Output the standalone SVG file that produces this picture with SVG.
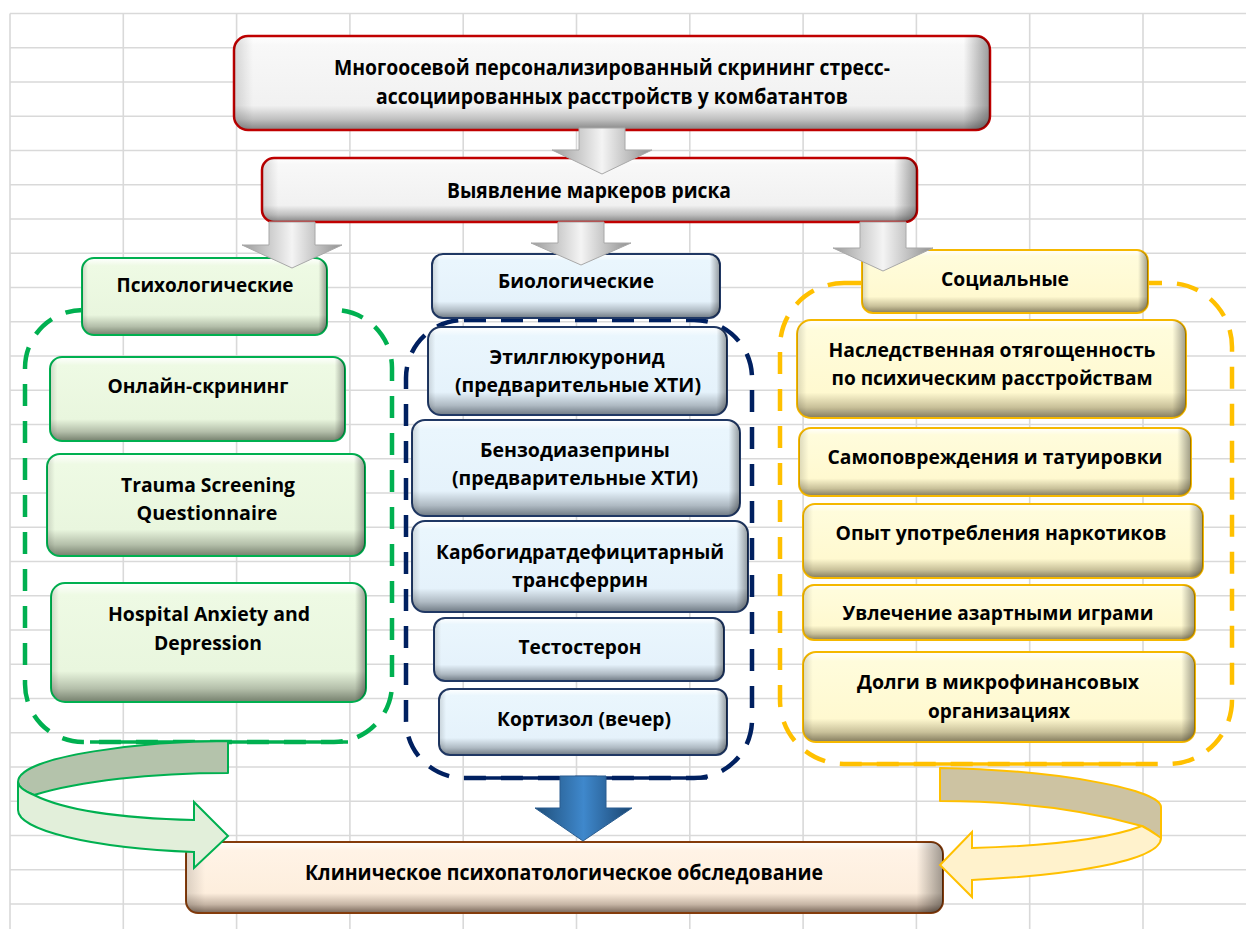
<svg xmlns="http://www.w3.org/2000/svg" width="1246" height="929" viewBox="0 0 1246 929">
<defs>
<linearGradient id="gGreen" x1="0" y1="0" x2="0" y2="1"><stop offset="0" stop-color="#ffffff"/><stop offset="0.1" stop-color="#eefae4"/><stop offset="0.74" stop-color="#e9f6de"/><stop offset="0.89" stop-color="#b3bea9"/><stop offset="1" stop-color="#75806d"/></linearGradient>
<linearGradient id="gBlue" x1="0" y1="0" x2="0" y2="1"><stop offset="0" stop-color="#ffffff"/><stop offset="0.1" stop-color="#eaf6fd"/><stop offset="0.74" stop-color="#e5f2fb"/><stop offset="0.89" stop-color="#afbac3"/><stop offset="1" stop-color="#6f7a84"/></linearGradient>
<linearGradient id="gGold" x1="0" y1="0" x2="0" y2="1"><stop offset="0" stop-color="#ffffff"/><stop offset="0.1" stop-color="#fffcdc"/><stop offset="0.74" stop-color="#fff9d0"/><stop offset="0.89" stop-color="#c9c19a"/><stop offset="1" stop-color="#837b5d"/></linearGradient>
<linearGradient id="gRed" x1="0" y1="0" x2="0" y2="1"><stop offset="0" stop-color="#ffffff"/><stop offset="0.1" stop-color="#f8f8f8"/><stop offset="0.74" stop-color="#f1f1f1"/><stop offset="0.89" stop-color="#bebebe"/><stop offset="1" stop-color="#838383"/></linearGradient>
<linearGradient id="gPeach" x1="0" y1="0" x2="0" y2="1"><stop offset="0" stop-color="#ffffff"/><stop offset="0.12" stop-color="#fff3e6"/><stop offset="0.72" stop-color="#fdeedd"/><stop offset="0.88" stop-color="#c5b4a4"/><stop offset="1" stop-color="#786658"/></linearGradient>
<linearGradient id="shadeH" x1="0" y1="0" x2="1" y2="0"><stop offset="0" stop-color="#000" stop-opacity="0.14"/><stop offset="0.025" stop-color="#000" stop-opacity="0"/><stop offset="0.965" stop-color="#000" stop-opacity="0"/><stop offset="1" stop-color="#000" stop-opacity="0.38"/></linearGradient>
<linearGradient id="gGrey" x1="0" y1="0" x2="1" y2="0"><stop offset="0" stop-color="#9c9c9c"/><stop offset="0.5" stop-color="#f4f4f4"/><stop offset="1" stop-color="#8f8f8f"/></linearGradient>
<linearGradient id="gBlueArrow" x1="0" y1="0" x2="1" y2="0"><stop offset="0" stop-color="#1f4e79"/><stop offset="0.5" stop-color="#3f88cc"/><stop offset="1" stop-color="#1a4570"/></linearGradient>
</defs>
<style>
.grid{stroke:#d9d9d9;stroke-width:1.6;fill:none}
.t{font-family:"Open Sans","Noto Sans","DejaVu Sans",sans-serif;font-weight:700;font-size:19.5px;fill:#000;text-anchor:middle}
.tc{font-family:"Open Sans","Noto Sans","DejaVu Sans",sans-serif;font-weight:700;font-size:22px;fill:#000;text-anchor:middle}
.green .b{fill:url(#gGreen);stroke:#00b050;stroke-width:2}
.blue .b{fill:url(#gBlue);stroke:#203864;stroke-width:2}
.gold .b{fill:url(#gGold);stroke:#f5b800;stroke-width:2}
.red .b{fill:url(#gRed);stroke:#c00000;stroke-width:2.5}
.peach .b{fill:url(#gPeach);stroke:#843c0c;stroke-width:2}
.s{fill:url(#shadeH);stroke:none}
.dash{fill:none;stroke-width:4.5;stroke-dasharray:22 15}
.garrow{fill:url(#gGrey);stroke:#a8a8a8;stroke-width:1}
</style>
<rect width="1246" height="929" fill="#ffffff"/>
<path class="grid" d="M10,13.5V929M123.3,13.5V929M236.6,13.5V929M349.9,13.5V929M463.2,13.5V929M576.5,13.5V929M689.8,13.5V929M803.1,13.5V929M916.4,13.5V929M1029.7,13.5V929M1143,13.5V929
M10,13.5H1246M10,47.75H1246M10,82H1246M10,116.25H1246M10,150.5H1246M10,184.75H1246M10,219H1246M10,253.25H1246M10,287.5H1246M10,321.75H1246M10,356H1246M10,390.25H1246M10,424.5H1246M10,458.75H1246M10,493H1246M10,527.25H1246M10,561.5H1246M10,595.75H1246M10,630H1246M10,664.25H1246M10,698.5H1246M10,732.75H1246M10,767H1246M10,801.25H1246M10,835.5H1246M10,869.75H1246M10,904H1246"/>

<g id="containers">
<rect class="dash" x="25" y="310" width="367" height="432" rx="58" stroke="#00b050"/>
<line x1="90" y1="742" x2="348" y2="742" stroke="#00b050" stroke-width="3.5"/>
<rect class="dash" x="406" y="320" width="346" height="458" rx="58" stroke="#002060"/>
<line x1="475" y1="778" x2="707" y2="778" stroke="#002060" stroke-width="3.5"/>
<rect class="dash" x="780" y="283" width="452" height="481" rx="64" stroke="#ffc000"/>
<line x1="840" y1="764" x2="1155" y2="764" stroke="#ffc000" stroke-width="3.5"/>
</g>

<g id="n-top" class="red">
<rect class="b" x="234" y="36" width="756" height="94" rx="14" stroke-width="3.5"/>
<rect class="s" x="234" y="36" width="756" height="94" rx="14"/>
<text class="tc" x="612" y="75" textLength="556" lengthAdjust="spacingAndGlyphs">Многоосевой персонализированный скрининг стресс-</text>
<text class="tc" x="612" y="104" textLength="472" lengthAdjust="spacingAndGlyphs">ассоциированных расстройств у комбатантов</text>
</g>
<g id="n-markers" class="red">
<rect class="b" x="262" y="158" width="655" height="64" rx="12"/>
<rect class="s" x="262" y="158" width="655" height="64" rx="12"/>
<text class="tc" x="589" y="198" textLength="284" lengthAdjust="spacingAndGlyphs">Выявление маркеров риска</text>
</g>

<g id="n-psych" class="green">
<rect class="b" x="82" y="258" width="245" height="77" rx="12"/>
<rect class="s" x="82" y="258" width="245" height="77" rx="12"/>
<text class="t" x="205" y="292" textLength="177" lengthAdjust="spacingAndGlyphs">Психологические</text>
</g>
<g id="n-online" class="green">
<rect class="b" x="50" y="357" width="295" height="84" rx="12"/>
<rect class="s" x="50" y="357" width="295" height="84" rx="12"/>
<text class="t" x="198" y="393" textLength="181" lengthAdjust="spacingAndGlyphs">Онлайн-скрининг</text>
</g>
<g id="n-trauma" class="green">
<rect class="b" x="47" y="454" width="318" height="102" rx="13"/>
<rect class="s" x="47" y="454" width="318" height="102" rx="13"/>
<text class="t" x="208" y="492" textLength="174" lengthAdjust="spacingAndGlyphs">Trauma Screening</text>
<text class="t" x="207" y="520" textLength="141" lengthAdjust="spacingAndGlyphs">Questionnaire</text>
</g>
<g id="n-hads" class="green">
<rect class="b" x="51" y="583" width="315" height="119" rx="14"/>
<rect class="s" x="51" y="583" width="315" height="119" rx="14"/>
<text class="t" x="209" y="621" textLength="202" lengthAdjust="spacingAndGlyphs">Hospital Anxiety and</text>
<text class="t" x="208" y="650" textLength="108" lengthAdjust="spacingAndGlyphs">Depression</text>
</g>

<g id="n-bio" class="blue">
<rect class="b" x="432" y="254" width="288" height="64" rx="11"/>
<rect class="s" x="432" y="254" width="288" height="64" rx="11"/>
<text class="t" x="576" y="288" textLength="156" lengthAdjust="spacingAndGlyphs">Биологические</text>
</g>
<g id="n-etg" class="blue">
<rect class="b" x="428" y="327" width="299" height="88" rx="13"/>
<rect class="s" x="428" y="327" width="299" height="88" rx="13"/>
<text class="t" x="577" y="364" textLength="175" lengthAdjust="spacingAndGlyphs">Этилглюкуронид</text>
<text class="t" x="578" y="392" textLength="246" lengthAdjust="spacingAndGlyphs">(предварительные ХТИ)</text>
</g>
<g id="n-bzd" class="blue">
<rect class="b" x="412" y="420" width="328" height="96" rx="13"/>
<rect class="s" x="412" y="420" width="328" height="96" rx="13"/>
<text class="t" x="575" y="457" textLength="190" lengthAdjust="spacingAndGlyphs">Бензодиазеприны</text>
<text class="t" x="575" y="485" textLength="246" lengthAdjust="spacingAndGlyphs">(предварительные ХТИ)</text>
</g>
<g id="n-cdt" class="blue">
<rect class="b" x="412" y="521" width="336" height="91" rx="13"/>
<rect class="s" x="412" y="521" width="336" height="91" rx="13"/>
<text class="t" x="580" y="559" textLength="288" lengthAdjust="spacingAndGlyphs">Карбогидратдефицитарный</text>
<text class="t" x="580" y="587" textLength="136" lengthAdjust="spacingAndGlyphs">трансферрин</text>
</g>
<g id="n-testo" class="blue">
<rect class="b" x="434" y="618" width="290" height="63" rx="11"/>
<rect class="s" x="434" y="618" width="290" height="63" rx="11"/>
<text class="t" x="580" y="654" textLength="123" lengthAdjust="spacingAndGlyphs">Тестостерон</text>
</g>
<g id="n-cort" class="blue">
<rect class="b" x="439" y="689" width="288" height="66" rx="11"/>
<rect class="s" x="439" y="689" width="288" height="66" rx="11"/>
<text class="t" x="584" y="726" textLength="174" lengthAdjust="spacingAndGlyphs">Кортизол (вечер)</text>
</g>

<g id="n-social" class="gold">
<rect class="b" x="862" y="250" width="286" height="63" rx="11"/>
<rect class="s" x="862" y="250" width="286" height="63" rx="11"/>
<text class="t" x="1005" y="286" textLength="128" lengthAdjust="spacingAndGlyphs">Социальные</text>
</g>
<g id="n-hered" class="gold">
<rect class="b" x="797" y="320" width="389" height="98" rx="14"/>
<rect class="s" x="797" y="320" width="389" height="98" rx="14"/>
<text class="t" x="992" y="357" textLength="327" lengthAdjust="spacingAndGlyphs">Наследственная отягощенность</text>
<text class="t" x="992" y="385" textLength="321" lengthAdjust="spacingAndGlyphs">по психическим расстройствам</text>
</g>
<g id="n-self" class="gold">
<rect class="b" x="799" y="428" width="392" height="68" rx="12"/>
<rect class="s" x="799" y="428" width="392" height="68" rx="12"/>
<text class="t" x="995" y="464" textLength="335" lengthAdjust="spacingAndGlyphs">Самоповреждения и татуировки</text>
</g>
<g id="n-drugs" class="gold">
<rect class="b" x="803" y="504" width="400" height="74" rx="12"/>
<rect class="s" x="803" y="504" width="400" height="74" rx="12"/>
<text class="t" x="1001" y="540" textLength="331" lengthAdjust="spacingAndGlyphs">Опыт употребления наркотиков</text>
</g>
<g id="n-gambling" class="gold">
<rect class="b" x="803" y="585" width="392" height="55" rx="11"/>
<rect class="s" x="803" y="585" width="392" height="55" rx="11"/>
<text class="t" x="998" y="620" textLength="311" lengthAdjust="spacingAndGlyphs">Увлечение азартными играми</text>
</g>
<g id="n-debts" class="gold">
<rect class="b" x="803" y="652" width="392" height="90" rx="13"/>
<rect class="s" x="803" y="652" width="392" height="90" rx="13"/>
<text class="t" x="998" y="689" textLength="282" lengthAdjust="spacingAndGlyphs">Долги в микрофинансовых</text>
<text class="t" x="999" y="718" textLength="142" lengthAdjust="spacingAndGlyphs">организациях</text>
</g>

<g id="n-clinical" class="peach">
<rect class="b" x="186" y="842" width="757" height="71" rx="12"/>
<rect class="s" x="186" y="842" width="757" height="71" rx="12"/>
<text class="tc" x="564" y="880" textLength="518" lengthAdjust="spacingAndGlyphs">Клиническое психопатологическое обследование</text>
</g>

<g id="connectors">
<polygon class="garrow" points="579,128 625,128 625,150 652,150 602,174 552,150 579,150"/>
<polygon class="garrow" points="269,222 315,222 315,245 342,245 292,268 242,245 269,245"/>
<polygon class="garrow" points="558,222 604,222 604,243 631,243 581,265 531,243 558,243"/>
<polygon class="garrow" points="860,222 906,222 906,248 933,248 883,271 833,248 860,248"/>
<polygon points="560,776 606,776 606,808 632,808 583,841 535,808 560,808" fill="url(#gBlueArrow)" stroke="#2a5d90" stroke-width="1"/>
<path d="M228,741 C150,741 18,755 18,782 C18,787 24,791 34,795 C80,781 150,773 228,773 Z" fill="#b4c3ab" stroke="#00b050" stroke-width="2" stroke-linejoin="round"/>
<path d="M18,782 L18,810 C18,830 90,848 194,852 L194,868 L228,836 L194,802 L194,820 C110,818 60,808 34,795 C24,791 18,787 18,782 Z" fill="#e2efda" stroke="#00b050" stroke-width="2" stroke-linejoin="miter"/>
<path d="M940,768 C1060,770 1161,790 1161,807 L1161,838 C1155,834 1150,830 1142,826 C1070,806 1000,801 940,801 Z" fill="#cdc3a2" stroke="#ffc000" stroke-width="2" stroke-linejoin="round"/>
<path d="M1161,838 C1161,862 1060,876 972,880 L972,897 L940,865 L972,832 L972,848 C1050,846 1110,838 1142,826 C1150,830 1155,834 1161,838 Z" fill="#fff2cc" stroke="#ffc000" stroke-width="2" stroke-linejoin="miter"/>
</g>
</svg>
